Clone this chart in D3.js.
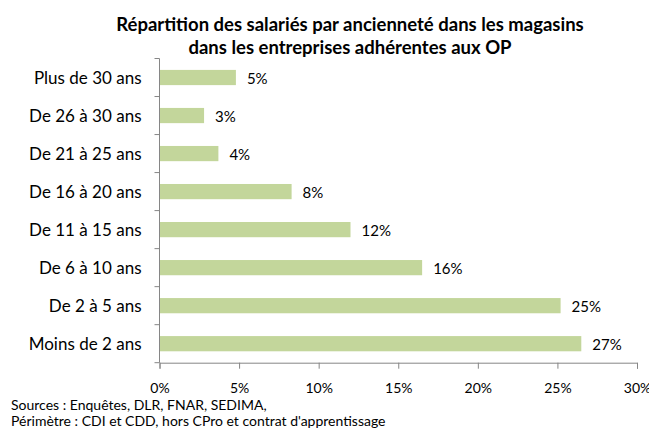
<!DOCTYPE html>
<html>
<head>
<meta charset="utf-8">
<script src="https://cdn.jsdelivr.net/npm/d3@7"></script>
<style>
  body { margin: 0; background: #fff; }
  svg { font-family: Lato, "Open Sans", sans-serif; }
</style>
</head>
<body>
<script>
// categories, top to bottom as in the picture
var categories = ['Plus de 30 ans', 'De 26 à 30 ans', 'De 21 à 25 ans', 'De 16 à 20 ans',
                  'De 11 à 15 ans', 'De 6 à 10 ans', 'De 2 à 5 ans', 'Moins de 2 ans'];
var values = [4.8, 2.8, 3.7, 8.3, 12.0, 16.5, 25.2, 26.5];
var valueLabels = ['5%', '3%', '4%', '8%', '12%', '16%', '25%', '27%'];
var xTicks = [0, 5, 10, 15, 20, 25, 30];
var titleLines = ['Répartition des salariés par ancienneté dans les magasins',
                  'dans les entreprises adhérentes aux OP'];
var footLines = ['Sources : Enquêtes, DLR, FNAR, SEDIMA,',
                 "Périmètre : CDI et CDD, hors CPro et contrat d'apprentissage"];

var width = 649, height = 431;
// plot box (note: "top" is taken by window.top, so use other names)
var plotLeft = 159.5, plotRight = 637, plotTop = 58.5, plotBottom = 362.7;
var axisColor = '#868686';

var svg = d3.select('body').append('svg')
  .attr('width', width)
  .attr('height', height);

var x = d3.scaleLinear().domain([0, 30]).range([plotLeft, plotRight]);
var y = d3.scaleBand().domain(categories).range([plotTop, plotBottom])
  .paddingInner(0.6).paddingOuter(0.3);

// title
svg.append('g').selectAll('text')
  .data(titleLines)
  .enter()
  .append('text')
  .attr('x', 350)
  .attr('y', function(d, i) { return 31 + i * 23; })
  .attr('text-anchor', 'middle')
  .attr('font-weight', 'bold')
  .attr('font-size', 18.5)
  .attr('fill', '#000')
  .text(function(d) { return d; });

// bars
svg.selectAll('rect.bar')
  .data(values)
  .enter()
  .append('rect')
  .attr('class', 'bar')
  .attr('x', x(0))
  .attr('y', function(d, i) { return y(categories[i]); })
  .attr('width', function(d) { return x(d) - x(0); })
  .attr('height', y.bandwidth())
  .attr('fill', '#c3d69b');

// value labels
svg.selectAll('text.val')
  .data(values)
  .enter()
  .append('text')
  .attr('class', 'val')
  .attr('x', function(d) { return x(d) + 11; })
  .attr('y', function(d, i) { return y(categories[i]) + y.bandwidth() / 2 + 6; })
  .attr('font-size', 15)
  .attr('fill', '#000')
  .text(function(d, i) { return valueLabels[i]; });

// y axis: line and ticks at the category boundaries
var yAxis = svg.append('g');
yAxis.append('line')
  .attr('x1', plotLeft).attr('x2', plotLeft)
  .attr('y1', plotTop).attr('y2', plotBottom)
  .attr('stroke', axisColor);
var step = y.step();
yAxis.selectAll('line.tick')
  .data(d3.range(categories.length + 1))
  .enter()
  .append('line')
  .attr('class', 'tick')
  .attr('x1', plotLeft - 5).attr('x2', plotLeft)
  .attr('y1', function(d) { return plotTop + d * step; })
  .attr('y2', function(d) { return plotTop + d * step; })
  .attr('stroke', axisColor);
yAxis.selectAll('text')
  .data(categories)
  .enter()
  .append('text')
  .attr('x', plotLeft - 18)
  .attr('y', function(d) { return y(d) + y.bandwidth() / 2 + 6; })
  .attr('text-anchor', 'end')
  .attr('font-size', 17)
  .attr('fill', '#000')
  .text(function(d) { return d; });

// x axis
var xAxis = svg.append('g')
  .attr('transform', 'translate(0,' + plotBottom + ')')
  .call(d3.axisBottom(x).tickValues(xTicks).tickSize(6).tickPadding(14)
    .tickFormat(function(d) { return d + '%'; }));
xAxis.select('.domain').attr('stroke', axisColor);
xAxis.selectAll('.tick line').attr('stroke', axisColor);
xAxis.selectAll('.tick text')
  .attr('font-size', 14)
  .attr('font-family', 'Lato, sans-serif')
  .attr('fill', '#000');

// footer
svg.append('g').selectAll('text')
  .data(footLines)
  .enter()
  .append('text')
  .attr('x', 11)
  .attr('y', function(d, i) { return 410 + i * 16; })
  .attr('font-size', 14)
  .attr('fill', '#000')
  .text(function(d) { return d; });
</script>
</body>
</html>
